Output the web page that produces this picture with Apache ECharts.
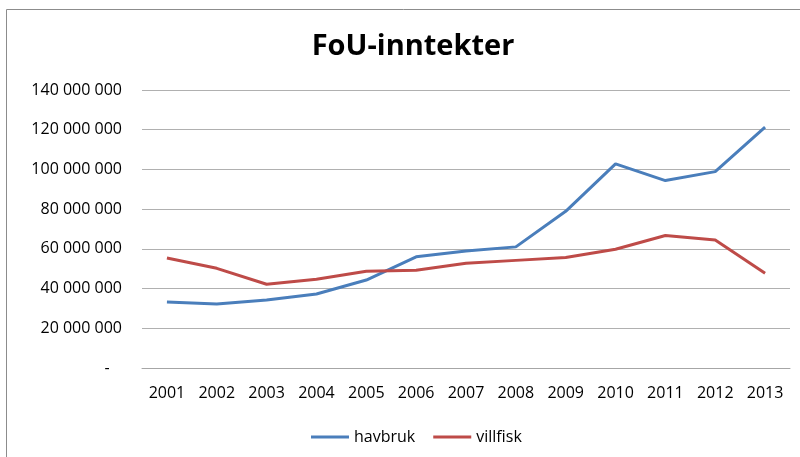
<!DOCTYPE html>
<html>
<head>
<meta charset="utf-8">
<script src="https://cdn.jsdelivr.net/npm/echarts@6/dist/echarts.min.js"></script>
<style>
html, body { margin: 0; padding: 0; background: #fff; }
#chart { width: 800px; height: 457px; }
</style>
</head>
<body>
<div id="chart"></div>
<script>
const years = ['2001', '2002', '2003', '2004', '2005', '2006', '2007', '2008', '2009', '2010', '2011', '2012', '2013'];
const havbruk = [33200000, 32200000, 34300000, 37300000, 44300000, 56000000, 58900000, 61000000, 78900000, 102800000, 94400000, 98900000, 121300000];
const villfisk = [55400000, 50200000, 42200000, 44700000, 48700000, 49200000, 52700000, 54200000, 55600000, 59800000, 66700000, 64500000, 47700000];

const font = '"Open Sans", "Liberation Sans", sans-serif';

function fmt(v) {
  if (v === 0) return '-   ';
  return String(v).replace(/\B(?=(\d{3})+(?!\d))/g, ' ');
}

const chart = echarts.init(document.getElementById('chart'));
chart.setOption({
  animation: false,
  title: {
    text: 'FoU-inntekter',
    left: 408,
    textAlign: 'center',
    top: 27,
    textStyle: { fontFamily: font, fontSize: 29, fontWeight: 'bold', color: '#000' }
  },
  graphic: [{
    type: 'rect',
    shape: { x: 6.5, y: 9.5, width: 900, height: 600 },
    style: { fill: null, stroke: '#8c8c8c', lineWidth: 1 },
    silent: true
  }],
  legend: {
    data: ['havbruk', 'villfisk'],
    left: 306,
    top: 424,
    icon: 'rect',
    itemWidth: 38,
    itemHeight: 3,
    itemGap: 18,
    textStyle: { fontFamily: font, fontSize: 16, color: '#000', padding: [0, 0, 0, 0] }
  },
  grid: { left: 142, right: 10, top: 90, bottom: 89 },
  xAxis: {
    type: 'category',
    data: years,
    boundaryGap: true,
    axisLine: { lineStyle: { color: '#a6a6a6' } },
    axisTick: { show: false },
    axisLabel: { fontFamily: font, fontSize: 16, color: '#000', margin: 17 }
  },
  yAxis: {
    type: 'value',
    min: 0,
    max: 140000000,
    interval: 20000000,
    axisLine: { show: false },
    axisTick: { show: false },
    splitLine: { lineStyle: { color: '#b0b0b0', width: 1 } },
    axisLabel: { fontFamily: font, fontSize: 16, color: '#000', margin: 20, formatter: fmt }
  },
  series: [
    {
      name: 'havbruk',
      type: 'line',
      data: havbruk,
      symbol: 'none',
      lineStyle: { color: '#4a7ebb', width: 3 },
      itemStyle: { color: '#4a7ebb' }
    },
    {
      name: 'villfisk',
      type: 'line',
      data: villfisk,
      symbol: 'none',
      lineStyle: { color: '#be4b48', width: 3 },
      itemStyle: { color: '#be4b48' }
    }
  ]
});
</script>
</body>
</html>
